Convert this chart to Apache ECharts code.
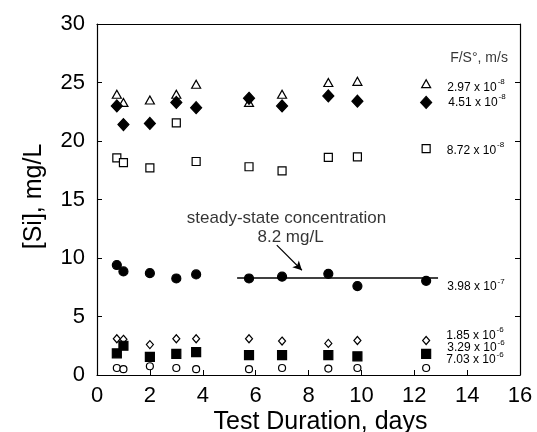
<!DOCTYPE html>
<html>
<head>
<meta charset="utf-8">
<script src="https://cdn.jsdelivr.net/npm/echarts@6/dist/echarts.min.js"></script>
<style>html,body{margin:0;padding:0;background:#fff;}#c{width:537px;height:432px;}</style>
</head>
<body>
<div id="c"></div>
<script>
// Test duration (days) for each sample
var days = [0.75, 1.0, 2.0, 3.0, 3.75, 5.75, 7.0, 8.75, 9.85, 12.45];
// [Si] mg/L per flow rate series
var s297e8 = [24.0, 23.3, 23.5, 24.0, 24.85, 23.3, 24.0, 25.0, 25.1, 24.9];
var s451e8 = [23.0, 21.4, 21.5, 23.3, 22.85, 23.65, 23.0, 23.85, 23.4, 23.3];
var s872e8 = [18.55, 18.15, 17.7, 21.55, 18.25, 17.8, 17.45, 18.6, 18.65, 19.35];
var s398e7 = [9.4, 8.85, 8.7, 8.25, 8.6, 8.25, 8.4, 8.65, 7.6, 8.05];
var s185e6 = [3.1, 3.05, 2.6, 3.1, 3.1, 3.1, 2.9, 2.7, 2.95, 2.95];
var s329e6 = [1.85, 2.5, 1.55, 1.8, 1.95, 1.7, 1.7, 1.7, 1.6, 1.8];
var s703e6 = [0.6, 0.5, 0.75, 0.6, 0.5, 0.5, 0.6, 0.55, 0.6, 0.6];
// series labels (mantissa, exponent)
var labMant = ['2.97 x 10', '4.51 x 10', '8.72 x 10', '3.98 x 10', '1.85 x 10', '3.29 x 10', '7.03 x 10'];
var labExp = ['-8', '-8', '-8', '-7', '-6', '-6', '-6'];
// steady-state line
var ssX = [5.3, 12.9];
var ssY = 8.3;
// annotation texts and their anchor positions (data space)
var noteText = ['steady-state concentration', '8.2 mg/L', 'F/S°, m/s'];
var noteX = [7.17, 7.32, 14.45];
var noteY = [13.35, 11.75, 27.1];
var xTicks = [0, 2, 4, 6, 8, 10, 12, 14, 16];
var yTicks = [0, 5, 10, 15, 20, 25, 30];

var FONT = 'Liberation Sans, Arial, sans-serif';
var chart = echarts.init(document.getElementById('c'), null, {renderer: 'canvas'});

function pts(vals) { return vals.map(function (v, i) { return [days[i], v]; }); }

var styles = [
  {symbol: 'triangle', size: [9, 8], fill: '#fff', dy: 4},
  {symbol: 'diamond', size: [11, 12], fill: '#000', dy: 0},
  {symbol: 'rect', size: [8, 8], fill: '#fff', dy: 2},
  {symbol: 'circle', size: [9, 9], fill: '#000', dy: 6},
  {symbol: 'diamond', size: [7, 8], fill: '#fff', dy: -5},
  {symbol: 'rect', size: [9, 9], fill: '#000', dy: -6},
  {symbol: 'circle', size: [7, 7], fill: '#fff', dy: -8}
];
var allData = [s297e8, s451e8, s872e8, s398e7, s185e6, s329e6, s703e6];

var series = allData.map(function (vals, k) {
  var st = styles[k];
  var data = pts(vals).map(function (p, i) {
    var d = {value: p};
    if (i === days.length - 1) {
      d.label = {
        show: true, position: 'right', distance: 16, offset: [0, st.dy],
        formatter: '{a|' + labMant[k] + '}{b|' + labExp[k] + '}',
        rich: {
          a: {fontFamily: FONT, fontSize: 12, color: '#000'},
          b: {fontFamily: FONT, fontSize: 8, color: '#000', padding: [0, 0, 11, 1]}
        }
      };
    }
    return d;
  });
  return {
    type: 'scatter', data: data, symbol: st.symbol, symbolSize: st.size,
    itemStyle: {color: st.fill, borderColor: '#000', borderWidth: 1.2, opacity: 1},
    z: 3, silent: true, animation: false
  };
});

series.push({
  type: 'line', data: [[ssX[0], ssY], [ssX[1], ssY]], showSymbol: false, symbol: 'none',
  lineStyle: {color: '#000', width: 1.5}, z: 2, silent: true, animation: false,
  markLine: {
    silent: true, symbol: ['none', 'arrow'], symbolSize: [7, 9],
    lineStyle: {color: '#000', width: 1.2, type: 'solid'},
    label: {show: false},
    data: [[{coord: [6.8, 11.1]}, {coord: [7.75, 8.95]}]]
  }
});

series.push({
  type: 'scatter', silent: true, animation: false, z: 5,
  symbol: 'circle', symbolSize: 1,
  itemStyle: {color: 'rgba(0,0,0,0)', borderWidth: 0},
  label: {show: true, position: 'inside', color: '#000', fontFamily: FONT, fontSize: 17},
  data: noteText.map(function (t, i) {
    var d = {value: [noteX[i], noteY[i]], label: {formatter: t}};
    if (i === 2) d.label.fontSize = 14;
    return d;
  })
});

chart.setOption({
  animation: false,
  backgroundColor: '#fff',
  grid: {left: 97, top: 24, right: 17, bottom: 57, containLabel: false, outerBoundsMode: 'none'},
  xAxis: [{
    type: 'value', min: 0, max: 16, interval: 2,
    name: 'Test Duration, days', nameLocation: 'middle', nameGap: 35, nameMoveOverlap: false,
    nameTextStyle: {fontFamily: FONT, fontSize: 25, color: '#000', padding: [0, 0, 0, 24]},
    axisLine: {show: true, onZero: false, lineStyle: {color: '#000', width: 1.2}},
    axisTick: {show: true, inside: true, length: 5, lineStyle: {color: '#000', width: 1}},
    axisLabel: {fontFamily: FONT, fontSize: 22, color: '#000', margin: 10,
      customValues: xTicks},
    splitLine: {show: false}
  }, {
    type: 'value', min: 0, max: 16, interval: 2, position: 'top',
    axisLine: {show: true, onZero: false, lineStyle: {color: '#000', width: 1.2}},
    axisTick: {show: false}, axisLabel: {show: false}, splitLine: {show: false}
  }],
  yAxis: [{
    type: 'value', min: 0, max: 30, interval: 5,
    name: '[Si], mg/L', nameLocation: 'middle', nameGap: 50, nameRotate: 90, nameMoveOverlap: false,
    nameTextStyle: {fontFamily: FONT, fontSize: 25, color: '#000', padding: [0, 0, 0, 6]},
    axisLine: {show: true, onZero: false, lineStyle: {color: '#000', width: 1.2}},
    axisTick: {show: true, inside: true, length: 5, lineStyle: {color: '#000', width: 1}},
    axisLabel: {fontFamily: FONT, fontSize: 22, color: '#000', margin: 12,
      customValues: yTicks},
    splitLine: {show: false}
  }, {
    type: 'value', min: 0, max: 30, interval: 5, position: 'right',
    axisLine: {show: true, onZero: false, lineStyle: {color: '#000', width: 1.2}},
    axisTick: {show: true, inside: true, length: 5, lineStyle: {color: '#000', width: 1}},
    axisLabel: {show: false}, splitLine: {show: false}
  }],
  series: series
});
</script>
</body>
</html>
